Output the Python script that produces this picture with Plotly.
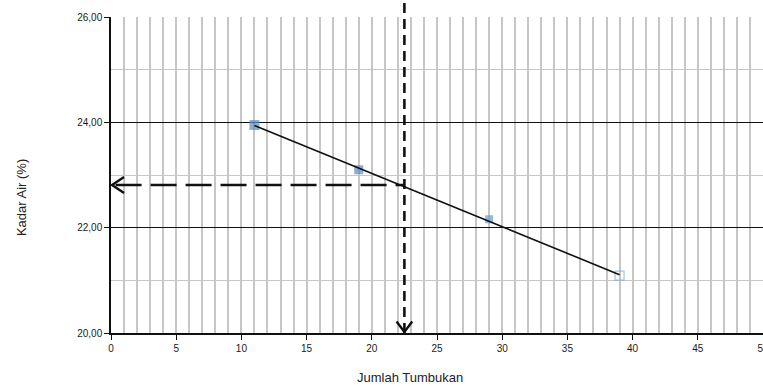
import numpy as np
import plotly.graph_objects as go

# Measured points: number of blows vs. water content (%)
blows = [11, 19, 29, 39]
water_content = [23.95, 23.10, 22.16, 21.09]

# Reading of water content at the target number of blows
target_blows = 22.5
target_water = 22.81

x_ticks = [0, 5, 10, 15, 20, 25, 30, 35, 40, 45, 50]
y_ticks = [20, 22, 24, 26]

# Linear trendline across the measured range
slope, intercept = np.polyfit(blows, water_content, 1)
trend_x = [min(blows), max(blows)]
trend_y = [slope * v + intercept for v in trend_x]

fig = go.Figure()

fig.add_trace(go.Scatter(
    x=blows, y=water_content, mode="markers",
    marker=dict(
        symbol=["square", "square", "square", "square-open"],
        size=[10, 9, 8, 9],
        color=["#5a8cc6", "#5a8cc6", "#6a9bd0", "#7fa9d6"],
        line=dict(width=[0, 0, 0, 1.2], color="#7fa9d6"),
    ),
    showlegend=False, hoverinfo="skip",
))

fig.add_trace(go.Scatter(
    x=trend_x, y=trend_y, mode="lines",
    line=dict(color="#111111", width=1.6),
    showlegend=False, hoverinfo="skip",
))

# Dashed guide lines with open arrowheads
fig.add_shape(type="line", xref="x", yref="paper",
              x0=target_blows, x1=target_blows, y0=0.0, y1=1.06,
              line=dict(color="#111111", width=2.6, dash="10px,6px"))
fig.add_shape(type="line", xref="x", yref="y",
              x0=0.35, x1=target_blows, y0=target_water, y1=target_water,
              line=dict(color="#111111", width=2.6, dash="26px,9px"))
fig.add_shape(type="path", xref="x", yref="y",
              path=f"M 1.0,{target_water + 0.15} L 0.08,{target_water} L 1.0,{target_water - 0.15}",
              line=dict(color="#111111", width=2.4))
fig.add_shape(type="path", xref="x", yref="y",
              path=f"M {target_blows - 0.6},20.22 L {target_blows},20.02 L {target_blows + 0.6},20.22",
              line=dict(color="#111111", width=2.4))

axis_font = dict(family="Liberation Sans, Arial, sans-serif", size=10, color="#1a1a1a")

fig.update_xaxes(
    range=[0, 50], tickvals=x_ticks, ticktext=[str(v) for v in x_ticks],
    ticklabeloverflow="allow", automargin=False,
    showline=True, linecolor="#111111", linewidth=1.5,
    ticks="outside", ticklen=5, tickcolor="#111111", tickwidth=1,
    showgrid=True, gridcolor="#c6c6c6", gridwidth=1.6,
    minor=dict(dtick=1, showgrid=True, gridcolor="#c6c6c6", gridwidth=1.6),
    tickfont=axis_font, zeroline=False,
)
fig.update_yaxes(
    range=[20, 26], tickvals=y_ticks, tickformat=".2f", automargin=False,
    showline=True, linecolor="#111111", linewidth=1.5,
    ticks="outside", ticklen=5, tickcolor="#111111", tickwidth=1,
    showgrid=True, gridcolor="#111111", gridwidth=1.2,
    minor=dict(dtick=1, showgrid=True, gridcolor="#c6c6c6", gridwidth=1.2),
    tickfont=axis_font, zeroline=False,
)

title_font = dict(family="Liberation Sans, Arial, sans-serif", size=13, color="#222222")
fig.add_annotation(text="Jumlah Tumbukan", xref="paper", yref="paper",
                   x=0.4586, y=-0.142, showarrow=False, font=title_font,
                   xanchor="center", yanchor="middle")
fig.add_annotation(text="Kadar Air (%)", xref="paper", yref="paper",
                   x=-0.138, y=0.427, showarrow=False, font=title_font,
                   textangle=-90, xanchor="center", yanchor="middle")

fig.update_layout(
    width=763, height=389,
    margin=dict(l=111, r=0, t=17, b=56),
    paper_bgcolor="white", plot_bgcolor="white",
    separators=",.",
)

fig.write_html("out.html")
